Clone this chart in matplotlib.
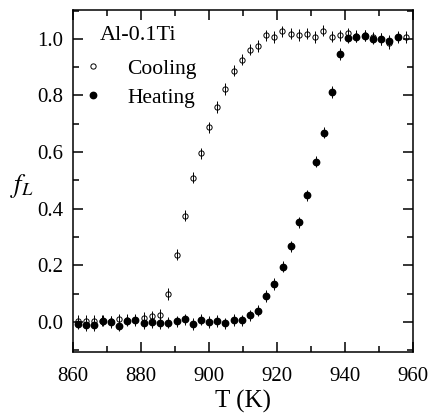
import numpy as np
import matplotlib
matplotlib.use("Agg")
import matplotlib.pyplot as plt
from matplotlib.ticker import MultipleLocator

plt.rcParams['font.family'] = ['Liberation Serif', 'DejaVu Serif']
plt.rcParams['mathtext.fontset'] = 'stix'

# cooling (open circles)
T_cool = [861.4, 863.8, 866.3, 868.7, 871.1, 873.6, 876.0, 878.4, 880.9, 883.3,
          885.6, 888.0, 890.5, 892.8, 895.2, 897.7, 900.0, 902.4, 904.8, 907.3,
          909.6, 912.0, 914.4, 916.7, 919.2, 921.5, 924.0, 926.4, 928.9, 931.2,
          933.6, 936.0, 938.5, 940.8, 943.3, 945.7, 948.1, 950.5, 952.8, 955.4,
          957.8]
f_cool = [0.005, 0.005, 0.005, 0.005, 0.003, 0.010, 0.008, 0.008, 0.014, 0.020,
          0.026, 0.099, 0.238, 0.376, 0.510, 0.596, 0.688, 0.759, 0.823, 0.888,
          0.926, 0.962, 0.975, 1.012, 1.007, 1.026, 1.018, 1.014, 1.018, 1.006,
          1.029, 1.008, 1.012, 1.020, 1.010, 1.012, 1.005, 1.000, 0.985, 1.005,
          1.006]

# heating (filled circles)
T_heat = [861.4, 863.8, 866.3, 868.8, 871.2, 873.6, 876.0, 878.4, 880.9, 883.3,
          885.6, 888.0, 890.5, 892.9, 895.2, 897.6, 900.0, 902.4, 904.8, 907.3,
          909.6, 912.0, 914.4, 916.8, 919.2, 921.6, 924.0, 926.4, 928.9, 931.3,
          933.8, 936.0, 938.5, 940.9, 943.3, 945.7, 948.1, 950.5, 952.9, 955.4]
f_heat = [-0.006, -0.010, -0.010, 0.005, 0.000, -0.013, 0.005, 0.006, -0.004, -0.001,
          -0.005, -0.002, 0.002, 0.010, -0.007, 0.008, 0.000, 0.004, -0.005, 0.007,
          0.006, 0.024, 0.040, 0.092, 0.134, 0.195, 0.267, 0.352, 0.447, 0.566,
          0.669, 0.812, 0.946, 1.004, 1.008, 1.011, 1.001, 1.000, 0.994, 1.008]

err = 0.02

fig = plt.figure(figsize=(4.31, 4.15), dpi=100)
ax = fig.add_axes([0.169, 0.153, 0.790, 0.823])

ax.errorbar(T_cool, f_cool, yerr=err, fmt='o', mfc='none', mec='black', mew=0.7,
            ms=3.8, ecolor='black', elinewidth=0.7, capsize=0, label='Cooling', zorder=2)
ax.errorbar(T_heat, f_heat, yerr=err, fmt='o', mfc='black', mec='black',
            ms=4.6, ecolor='black', elinewidth=0.7, capsize=0, label='Heating', zorder=3)

ax.set_xlim(860, 960)
ax.set_ylim(-0.104, 1.102)
ax.xaxis.set_major_locator(MultipleLocator(20))
ax.xaxis.set_minor_locator(MultipleLocator(10))
ax.yaxis.set_major_locator(MultipleLocator(0.2))
ax.yaxis.set_minor_locator(MultipleLocator(0.1))
ax.yaxis.set_major_formatter(plt.FuncFormatter(lambda v, p: f"{v:.1f}"))
ax.tick_params(which='both', direction='in', top=True, right=True, width=1.1,
               labelsize=15)
ax.tick_params(which='major', length=7)
ax.tick_params(which='minor', length=4)
ax.tick_params(axis='x', pad=11)
ax.tick_params(axis='y', pad=7)
for s in ax.spines.values():
    s.set_linewidth(1.1)

ax.set_xlabel('T (K)', fontsize=18, labelpad=3)
ax.set_ylabel('$f_L$', fontsize=19, rotation=0)
ax.yaxis.set_label_coords(-0.15, 0.445)

ax.text(0.078, 0.925, 'Al-0.1Ti', transform=ax.transAxes, fontsize=16,
        ha='left', va='center')
handles, labels = ax.get_legend_handles_labels()
leg = ax.legend([h[0] for h in handles], labels, loc='upper left',
                bbox_to_anchor=(0.034, 0.857), frameon=False, fontsize=15.5,
                handletextpad=1.2, labelspacing=0.42, borderaxespad=0.0,
                handlelength=0.8, borderpad=0.0)

fig.savefig('out.png', dpi=100)
